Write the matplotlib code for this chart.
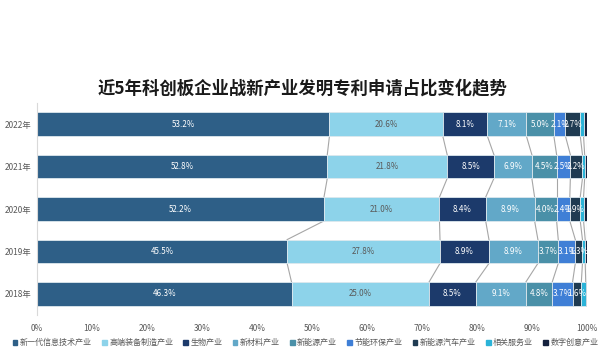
import matplotlib
matplotlib.use('Agg')
import matplotlib.pyplot as plt
import numpy as np

plt.rcParams['font.family'] = ['Noto Sans CJK SC', 'DejaVu Sans']

# years, bottom row first
years = ['2018年', '2019年', '2020年', '2021年', '2022年']
industries = ['新一代信息技术产业', '高端装备制造产业', '生物产业', '新材料产业', '新能源产业',
              '节能环保产业', '新能源汽车产业', '相关服务业', '数字创意产业']

# share (%) per industry, values for 2018..2022
info_tech = [46.3, 45.5, 52.2, 52.8, 53.2]
equipment = [25.0, 27.8, 21.0, 21.8, 20.6]
bio = [8.5, 8.9, 8.4, 8.5, 8.1]
materials = [9.1, 8.9, 8.9, 6.9, 7.1]
new_energy = [4.8, 3.7, 4.0, 4.5, 5.0]
eco = [3.7, 3.1, 2.4, 2.5, 2.1]
ev = [1.6, 1.3, 1.9, 2.2, 2.7]
services = [0.8, 0.5, 0.6, 0.4, 0.6]
digital = [0.2, 0.3, 0.6, 0.4, 0.6]

series = [info_tech, equipment, bio, materials, new_energy, eco, ev, services, digital]
colors = ['#2e5f87', '#8dd3ea', '#1c3a6b', '#62a8c8', '#4a90a8',
          '#3f7fd6', '#1f3b52', '#2bb3d8', '#14213d']
text_colors = ['white', '#595959', 'white', 'white', 'white', 'white', 'white', None, None]

fig = plt.figure(figsize=(6.05, 3.51), dpi=100)
ax = fig.add_axes([0.061, 0.102, 0.909, 0.605])

y = np.arange(len(years))
h = 0.56
left = np.zeros(len(years))
for vals, col, tc in zip(series, colors, text_colors):
    vals = np.array(vals)
    ax.barh(y, vals, left=left, height=h, color=col, edgecolor='#dde8ee', linewidth=0.6)
    if tc is not None:
        for yi, (l, v) in enumerate(zip(left, vals)):
            ax.text(l + v / 2, yi, f'{v:.1f}%', ha='center', va='center',
                    fontsize=5.8, color=tc, clip_on=True)
    left = left + vals
    # connector lines between rows
    for yi in range(len(years) - 1):
        ax.plot([left[yi + 1], left[yi]], [yi + 1 - h / 2, yi + h / 2],
                color='#a6a6a6', linewidth=0.8, zorder=0)

ax.set_xlim(0, 100)
ax.set_ylim(-0.5, 4.5)
ax.set_yticks(y)
ax.set_yticklabels(years, fontsize=6, color='#595959')
ax.set_xticks(np.arange(0, 101, 10))
ax.set_xticklabels([f'{v}%' for v in range(0, 101, 10)], fontsize=6, color='#595959')
ax.tick_params(axis='y', length=0, pad=4)
ax.tick_params(axis='x', length=0, pad=6)
for s in ['top', 'right', 'bottom']:
    ax.spines[s].set_visible(False)
ax.spines['left'].set_color('#d9d9d9')

fig.suptitle('近5年科创板企业战新产业发明专利申请占比变化趋势', x=0.5, y=0.775,
             fontsize=12.5, fontweight='bold', color='#1a1a1a')

handles = [plt.Rectangle((0, 0), 1, 1, color=c) for c in colors]
fig.legend(handles, industries, loc='lower center', bbox_to_anchor=(0.505, -0.01), ncol=9,
           frameon=False, fontsize=5.8, handlelength=0.6, handleheight=0.6,
           handletextpad=0.3, columnspacing=1.25, labelcolor='#595959')

fig.savefig('out.png', dpi=100)
